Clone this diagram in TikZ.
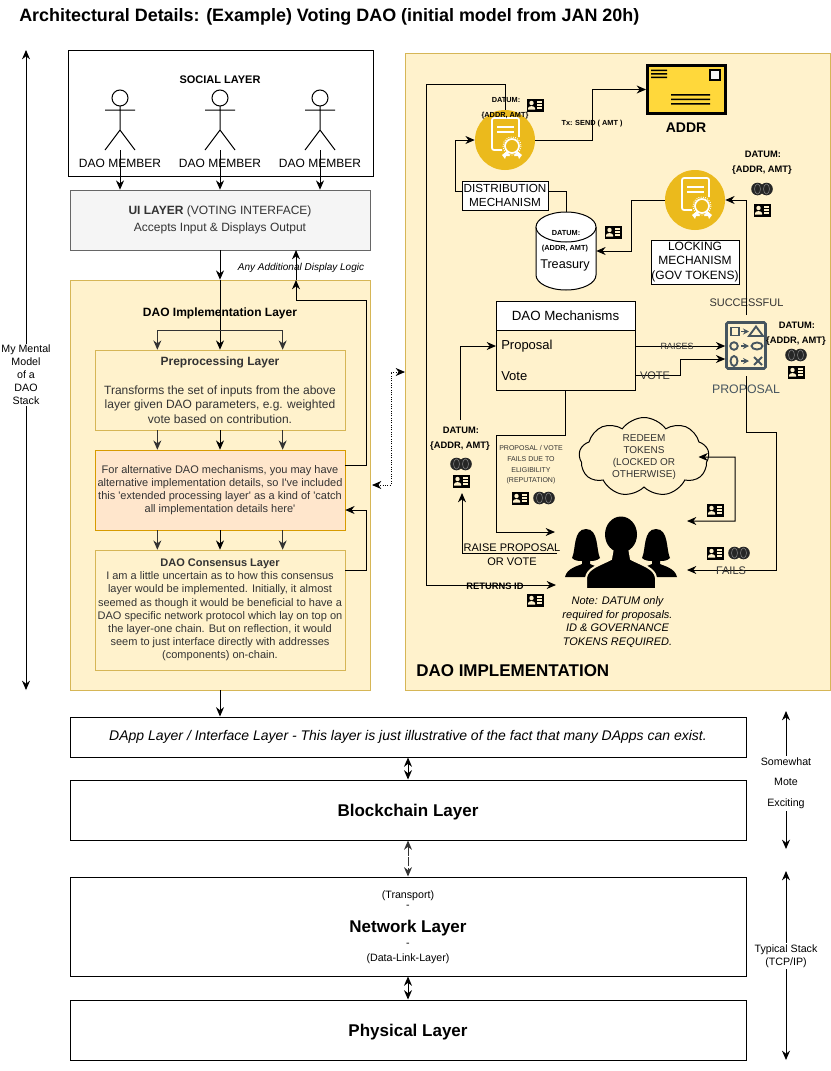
\documentclass[tikz,border=0pt]{standalone}
\usepackage{fontspec}
\setmainfont{Liberation Sans}
\usetikzlibrary{arrows.meta,shapes.geometric,shapes.symbols}

\definecolor{panelfill}{HTML}{FFF2CC}
\definecolor{paneldraw}{HTML}{D6B656}
\definecolor{altfill}{HTML}{FFE6CC}
\definecolor{altdraw}{HTML}{D79B00}
\definecolor{uifill}{HTML}{F5F5F5}
\definecolor{badgefill}{HTML}{EBBA1C}
\definecolor{mailfill}{HTML}{FFD83B}
\definecolor{slate}{HTML}{46555F}
\definecolor{inkgrey}{HTML}{333333}

\tikzset{
    sz/.style 2 args={minimum width=#1*0.75pt, minimum height=#2*0.75pt},
    box/.style={draw, inner sep=0pt, align=center},
    panel/.style={box, draw=paneldraw, fill=panelfill, text=inkgrey},
    flow/.style={line width=0.75pt, -{Stealth[length=7pt,width=6pt]}},
    flowgrey/.style={flow, draw=inkgrey},
    twoway/.style={line width=0.75pt, {Stealth[length=7pt,width=6pt]}-{Stealth[length=7pt,width=6pt]}},
    plain/.style={line width=0.75pt},
    lbl/.style={inner sep=0pt, align=center, font=\fontsize{9}{10.8}\selectfont},
    lblsmall/.style={inner sep=0pt, align=center, font=\fontsize{8.25}{9.9}\selectfont},
    tiny/.style={inner sep=0pt, align=center, font=\fontsize{8}{9.75}\selectfont},
    datum/.style={inner sep=0pt, font=\fontsize{7}{8}\selectfont\bfseries},
    datumsmall/.style={inner sep=0pt, font=\fontsize{5.5}{7}\selectfont\bfseries},
    big/.style={inner sep=0pt, text depth=0pt, font=\fontsize{12.75}{15}\selectfont\bfseries},
    badge/.style={circle, fill=badgefill, sz={60}{60}, inner sep=0pt},
    idcard/.pic={
        \fill[black] (-8.5,-6.5) rectangle (8.5,6.5);
        \fill[panelfill] (-3.5,-2) circle (2.2);
        \fill[panelfill] (-7,4.5) -- (-7,3) .. controls (-6,0.5) and (-1,0.5) .. (0,3) -- (0,4.5) -- cycle;
        \foreach \y in {-3,0,3}
            \draw[panelfill, line width=0.8pt] (2,\y) -- (7,\y);
    },
    coins/.pic={
        \fill[black!85] (-4.5,0) circle (6.3);
        \fill[black!85] (4.5,0) circle (6.3);
        \draw[black!50, line width=0.4pt] (-4.5,0) ellipse (3 and 5);
        \draw[black!50, line width=0.4pt] (4.5,0) ellipse (3 and 5);
    },
    certicon/.pic={
        \draw[white, line width=1.3pt, rounded corners=1.5pt] (-3,10) -- (-13,10) -- (-13,-22) -- (14,-22) -- (14,-3);
        \draw[white, line width=1.3pt] (-8,-13) -- (9,-13) (-8,-8) -- (9,-8);
        \draw[white, line width=1.3pt] (7,6) circle (7);
        \draw[white, line width=0.7pt, densely dotted] (7,6) circle (9);
        \fill[white] (-3,15) -- (2,11) -- (5,16) -- (1,16) -- (0,19) -- cycle;
        \fill[white] (17,15) -- (12,11) -- (9,16) -- (13,16) -- (14,19) -- cycle;
    },
}

\begin{document}
\begin{tikzpicture}[x=0.75pt, y=-0.75pt]
    \useasboundingbox (0,0) rectangle (831,1071);

    \node[inner sep=0pt, anchor=west, font=\fontsize{13.45}{15}\selectfont\bfseries] (title) at (19,17)
        {Architectural Details: (Example) Voting DAO (initial model from JAN 20h)};

    % left hand stack
    \coordinate (stacktop) at (26,50);
    \coordinate (stackbot) at (26,690);
    \draw[twoway] (stacktop) -- (stackbot);
    \node[tiny, fill=white, inner ysep=1pt] (stacklabel) at (26,375) {My Mental\\Model\\of a\\DAO\\Stack};

    % social layer
    \node[box, sz={305}{126}, line width=0.75pt] (social) at (220.5,113) {};
    \node[inner sep=0pt, font=\fontsize{8.25}{10}\selectfont\bfseries] (sociallabel) at (220,80) {SOCIAL LAYER};
    \node[box, panel, draw=black!60, fill=uifill, sz={300}{60}] (ui) at (220,220)
        {\fontsize{9}{11}\selectfont\textbf{UI LAYER} (VOTING INTERFACE)\\[0.5pt]\fontsize{9}{11}\selectfont Accepts Input \& Displays Output};

    \foreach \x in {120,220,320} {
        \draw[plain] (\x,98) circle (8);
        \draw[plain] (\x,106) -- (\x,130) (\x-15,110) -- (\x+15,110) (\x-15,150) -- (\x,130) -- (\x+15,150);
        \node[lbl] (member\x) at (\x,163.5) {DAO MEMBER};
        \coordinate (foot\x) at (\x,150);
        \draw[flow] (foot\x) -- (foot\x |- ui.north);
    }

    % DAO implementation layer
    \node[panel, sz={300}{410}] (daolayer) at (220,485) {};
    \node[inner sep=0pt, font=\fontsize{9}{11}\selectfont\bfseries] (daolabel) at (220,313) {DAO Implementation Layer};
    \node[panel, sz={250}{80}, lbl, text=inkgrey] (pre) at (220,390)
        {\textbf{Preprocessing Layer}\\~\\Transforms the set of inputs from the above\\layer given DAO parameters, e.g. weighted\\vote based on contribution.};
    \node[panel, draw=altdraw, fill=altfill, sz={250}{80}, lblsmall, text=inkgrey] (alt) at (220,490)
        {For alternative DAO mechanisms, you may have\\alternative implementation details, so I\textquotesingle ve included\\this \textquotesingle extended processing layer\textquotesingle{} as a kind of \textquotesingle catch\\all implementation details here\textquotesingle};
    \node[panel, sz={250}{120}, lblsmall, text=inkgrey] (consensus) at (220,610)
        {\textbf{DAO Consensus Layer}\\I am a little uncertain as to how this consensus\\layer would be implemented. Initially, it almost\\seemed as though it would be beneficial to have a\\DAO specific network protocol which lay on top on\\the layer-one chain. But on reflection, it would\\seem to just interface directly with addresses\\(components) on-chain.};

    \draw[flow] (ui.south) -- (daolayer.north);
    \coordinate (fan) at (220,330);
    \draw[flow] (daolayer.north) -- (pre.north);
    \foreach \dx in {-47pt,47pt} {
        \draw[flowgrey] (fan) -| ([xshift=\dx]pre.north);
        \draw[flowgrey] ([xshift=\dx]pre.south) -- ([xshift=\dx]alt.north);
        \draw[flowgrey] ([xshift=\dx]alt.south) -- ([xshift=\dx]consensus.north);
    }
    \draw[flow] (pre.south) -- (alt.north);
    \draw[flow] (alt.south) -- (consensus.north);

    % feedback on the right of the layers
    \coordinate (backtop) at (296,300);
    \coordinate (backright) at (366,300);
    \coordinate (uiport) at (296,250);
    \coordinate (layerport) at (296,280);
    \draw[flow] ([yshift=18.75pt]alt.east) -| (backright) -- (backtop) -- (layerport);
    \draw[flow] (layerport) -- (uiport);
    \node[inner sep=0pt, font=\fontsize{7.5}{9}\selectfont\itshape] (displaylogic) at (301,268) {Any Additional Display Logic};
    \coordinate (loopright) at (366,510);
    \draw[flow] ([yshift=30pt]consensus.east) -| (loopright) -- ([yshift=-15pt]alt.east);

    % DAO implementation panel
    \node[panel, sz={425}{637}] (impl) at (617.5,371.5) {};
    \node[inner sep=0pt, anchor=west, font=\fontsize{12.75}{15}\selectfont\bfseries] (impllabel) at (416,671) {DAO IMPLEMENTATION};

    \coordinate (linkleft) at (391,485);
    \coordinate (linktop) at (391,372);
    \coordinate (linkin) at (372,485);
    \coordinate (linkout) at (405,372);
    \draw[twoway, densely dotted, line width=0.6pt] (linkin) -- (linkleft) -- (linktop) -- (linkout);

    % treasury and its mechanism
    \node[inner sep=0pt, sz={60}{78}] (treasury) at (566,251) {};
    \draw[fill=white, line width=0.75pt] (536,227) -- (536,275) arc[start angle=180, end angle=0, x radius=30, y radius=15] -- (596,227);
    \draw[fill=white, line width=0.75pt] (566,227) ellipse (30 and 15);
    \node[datumsmall] (treasdatum) at (566,233) {DATUM:};
    \node[datumsmall] (treasaddr) at (565,249) {(ADDR, AMT)};
    \node[inner sep=0pt, font=\fontsize{9.5}{11}\selectfont] (treaslabel) at (565,265) {Treasury};
    \pic at (613,232) {idcard};

    % distribution mechanism
    \node[badge] (dist) at (505,140) {};
    \pic at (505,140) {certicon};
    \coordinate (distbend) at (455,191);
    \draw[flow] (treasury.north) |- (distbend) |- (dist.west);
    \node[box, fill=white, line width=0.75pt, sz={86}{29}, lbl, font=\fontsize{8.8}{10.8}\selectfont] (distlabel) at (505,195.5) {DISTRIBUTION\\MECHANISM};

    % addr
    \node[draw, fill=mailfill, line width=2.25pt, sz={78}{48}, inner sep=0pt] (addr) at (686.5,89.5) {};
    \fill[black] (651,69.5) rectangle (667,71.2) (651,73) rectangle (667,74.7) (651,76.5) rectangle (667,78.2);
    \draw[fill=uifill, line width=1.2pt] (710,70) rectangle (720,80);
    \fill[black] (671,94) rectangle (710,95.7) (671,98.5) rectangle (710,100.2) (671,103) rectangle (710,104.7);
    \node[inner sep=0pt, font=\fontsize{10.5}{12}\selectfont\bfseries] (addrlabel) at (686,128) {ADDR};
    \coordinate (txbend) at (592,89.5);
    \draw[flow] (dist.east) -| (txbend) -- (addr.west);
    \node[datumsmall] (txlabel) at (592,124) {Tx: SEND ( AMT )};
    \node[datumsmall] (distdatum) at (506,100) {DATUM:};
    \node[datumsmall] (distaddr) at (505,116) {\{ADDR, AMT\}};
    \pic at (535,105) {idcard};

    % locking mechanism
    \node[badge] (lock) at (695,200) {};
    \pic at (695,200) {certicon};
    \node[box, fill=white, line width=0.75pt, sz={88}{44}, lbl] (locklabel) at (695,262) {LOCKING\\MECHANISM\\(GOV TOKENS)};
    \coordinate (lockbend) at (631,251);
    \draw[flow] (lock.west) -| (lockbend) -- (treasury.east);
    \node[datum] (lockdatum) at (763,154) {DATUM:};
    \node[datum] (lockaddr) at (762,170) {\{ADDR, AMT\}};
    \pic at (762,189) {coins};
    \pic at (762,210) {idcard};

    % proposal
    \node[draw=slate, rounded corners=1pt, line width=1.9pt, sz={39}{46}, inner sep=0pt] (propicon) at (746,345.5) {};
    \draw[slate, line width=1.4pt] (731,327.5) rectangle (739,335.5);
    \draw[slate, line width=1.4pt] (749,336) -- (756,326.5) -- (763,336) -- cycle;
    \draw[slate, line width=1.4pt] (734,346) circle (3.8);
    \draw[slate, line width=1.4pt] (757,346) ellipse (5.5 and 3.5);
    \draw[slate, line width=1.4pt] (734,361) ellipse (3.5 and 5);
    \draw[slate, line width=1.4pt] (754,357) -- (762,365) (754,365) -- (762,357);
    \foreach \y in {331.5,346,361}
        \draw[slate, line width=1.2pt, -{Stealth[length=4.5pt,width=4.5pt]}] (741,\y) -- (749,\y);
    \node[inner sep=0pt, text=slate, font=\fontsize{9.25}{11}\selectfont] (proplabel) at (746,389) {PROPOSAL};
    \node[inner sep=0pt, text=inkgrey, font=\fontsize{8.25}{11}\selectfont] (success) at (746.5,303) {SUCCESSFUL};
    \coordinate (succstart) at (746,315);
    \coordinate (succtop) at (746,200);
    \draw[flow] (succstart) -- (succtop) -- (lock.east);
    \node[datum] (propdatum) at (797,325) {DATUM:};
    \node[datum] (propaddr) at (796,341) {\{ADDR, AMT\}};
    \pic at (796,355) {coins};
    \pic at (796,372) {idcard};

    % DAO mechanisms
    \node[box, fill=white, line width=0.75pt, sz={139}{29}, font=\fontsize{10}{12}\selectfont] (mechhead) at (565.5,315.5) {DAO Mechanisms};
    \node[box, line width=0.75pt, sz={139}{60}] (mechbody) at (565.5,360) {};
    \node[inner sep=0pt, anchor=west, font=\fontsize{9.75}{12}\selectfont] (proposal) at (501,346.5) {Proposal};
    \node[inner sep=0pt, anchor=west, font=\fontsize{9.75}{12}\selectfont] (vote) at (501,376.5) {Vote};
    \coordinate (raisestart) at (635,346);
    \coordinate (votestart) at (635,375);
    \coordinate (votebend) at (680,359);
    \draw[flow] (raisestart) -- (raisestart -| propicon.west);
    \draw[flow] (votestart) -| (votebend) -- (votebend -| propicon.west);
    \node[inner sep=0pt, text=inkgrey, font=\fontsize{6.75}{8}\selectfont] (raiseslabel) at (677,346) {RAISES};
    \node[inner sep=0pt, text=inkgrey, font=\fontsize{8.25}{10}\selectfont] (votelabel) at (655,376) {VOTE};

    % datum on the left of the mechanisms
    \node[datum] (leftdatum) at (461,430) {DATUM:};
    \node[datum] (leftaddr) at (460,446) {\{ADDR, AMT\}};
    \pic at (461,464) {coins};
    \pic at (461,481) {idcard};
    \coordinate (leftstart) at (460,420);
    \coordinate (protip) at (496,346);
    \draw[flow] (leftstart) |- (protip);

    % cloud
    \node[cloud, draw, line width=0.75pt, cloud puffs=9, cloud puff arc=110, aspect=1.7, sz={130}{77}, inner sep=0pt, align=center, text=inkgrey, font=\fontsize{7.5}{9}\selectfont] (redeem) at (644,457)
        {REDEEM\\TOKENS\\(LOCKED OR\\OTHERWISE)};

    % members at the bottom
    \fill[black] (572,558) .. controls (576,550) and (573,529) .. (586,529) .. controls (599,529) and (596,550) .. (600,558) .. controls (597,561) and (592,561) .. (590,561) -- (590,564) .. controls (595,566) and (600,568) .. (606,571) -- (606,577) -- (565,577) .. controls (567,568) and (578,566) .. (582,564) -- (582,561) .. controls (579,561) and (575,561) .. (572,558) -- cycle;
    \fill[black] (670,558) .. controls (666,550) and (669,529) .. (656,529) .. controls (643,529) and (646,550) .. (642,558) .. controls (645,561) and (650,561) .. (652,561) -- (652,564) .. controls (647,566) and (642,568) .. (636,571) -- (636,577) -- (677,577) .. controls (675,568) and (664,566) .. (660,564) -- (660,561) .. controls (663,561) and (667,561) .. (670,558) -- cycle;
    \draw[panelfill, line width=1.5pt, fill=black] (586,589) -- (586,578) .. controls (587,568) and (600,565) .. (611,559) -- (613,548) -- (629,548) -- (631,559) .. controls (642,565) and (655,568) .. (656,578) -- (656,589) -- cycle;
    \fill[black] (621,534.5) ellipse (16 and 18);
    \coordinate (crowdfail) at (555,532);
    \coordinate (crowdraise) at (557,553);
    \coordinate (crowdret) at (556,585);
    \coordinate (crowdid) at (687,521);
    \coordinate (crowdfails) at (687,570);

    \coordinate (failbend) at (496,435);
    \draw[flow] (mechbody.south) |- (failbend) |- (crowdfail);
    \node[inner sep=0pt, align=center, text=inkgrey, font=\fontsize{5.25}{8}\selectfont] (faillabel) at (531,465)
        {PROPOSAL / VOTE\\FAILS DUE TO\\ELIGIBILITY\\(REPUTATION)};
    \pic at (520,498) {idcard};
    \pic at (544,498) {coins};

    \coordinate (raisetip) at (462,493);
    \draw[flow] (crowdraise) -| (raisetip);
    \node[inner sep=0pt, align=center, font=\fontsize{8.25}{10.5}\selectfont] (raiselabel) at (512,554.5) {RAISE PROPOSAL\\OR VOTE};

    \coordinate (rettop) at (426,84);
    \draw[flow] (dist.north) |- (rettop) |- (crowdret);
    \node[inner sep=0pt, font=\fontsize{7}{8}\selectfont\bfseries] (retlabel) at (495,586) {RETURNS ID};
    \pic at (535,600) {idcard};

    \coordinate (redeembend) at (735,457);
    \draw[twoway] ([xshift=-8pt]redeem.east) -- (redeembend) |- (crowdid);
    \pic at (715,510) {idcard};

    \coordinate (faildrop) at (746,376);
    \coordinate (failtop) at (776,432);
    \draw[flow] (faildrop) |- (failtop) |- (crowdfails);
    \node[inner sep=0pt, text=inkgrey, font=\fontsize{8.25}{10}\selectfont] (failslabel) at (731,571) {FAILS};
    \pic at (715,553) {idcard};
    \pic at (739,553) {coins};

    \node[inner sep=0pt, align=center, font=\fontsize{8.25}{10.1}\selectfont\itshape] (note) at (617.5,622)
        {Note: DATUM only\\required for proposals.\\ID \& GOVERNANCE\\TOKENS REQUIRED.};

    % bottom stack
    \node[box, sz={676}{40}, line width=0.75pt, font=\fontsize{10.5}{12}\selectfont\itshape] (dapp) at (408,737)
        {DApp Layer / Interface Layer - This layer is just illustrative of the fact that many DApps can exist.};
    \node[box, sz={676}{60}, line width=0.75pt, big] (chain) at (408,810) {Blockchain Layer};
    \node[box, sz={676}{99}, line width=0.75pt] (network) at (408,926.5) {};
    \node[box, sz={676}{60}, line width=0.75pt, big] (physical) at (408,1030) {Physical Layer};
    \node[tiny] (transport) at (408,895.5) {(Transport)};
    \node[tiny] (dashtop) at (408,907) {-};
    \node[big] (netlabel) at (408,926) {Network Layer};
    \node[tiny] (dashbot) at (408,945) {-};
    \node[tiny] (datalink) at (408,958.5) {(Data-Link-Layer)};

    \draw[flow] (daolayer.south) -- (dapp.north -| daolayer.south);
    \draw[twoway] (dapp.south) -- (chain.north);
    \draw[twoway, draw=inkgrey, dash pattern=on 7pt off 1pt] (chain.south) -- (network.north);
    \draw[twoway] (network.south) -- (physical.north);

    % right hand stacks
    \coordinate (moretop) at (786,711);
    \coordinate (morebot) at (786,849);
    \draw[twoway] (moretop) -- (morebot);
    \node[inner sep=0pt, inner ysep=1.5pt, align=center, fill=white, font=\fontsize{8}{15.4}\selectfont] (moreback) at (786,783) {Somewhat\\Mote\\Exciting};
    \coordinate (typtop) at (786,871);
    \coordinate (typbot) at (786,1060);
    \draw[twoway] (typtop) -- (typbot);
    \node[tiny, fill=white, inner ysep=1pt] (typical) at (786,956) {Typical Stack\\(TCP/IP)};
\end{tikzpicture}
\end{document}
